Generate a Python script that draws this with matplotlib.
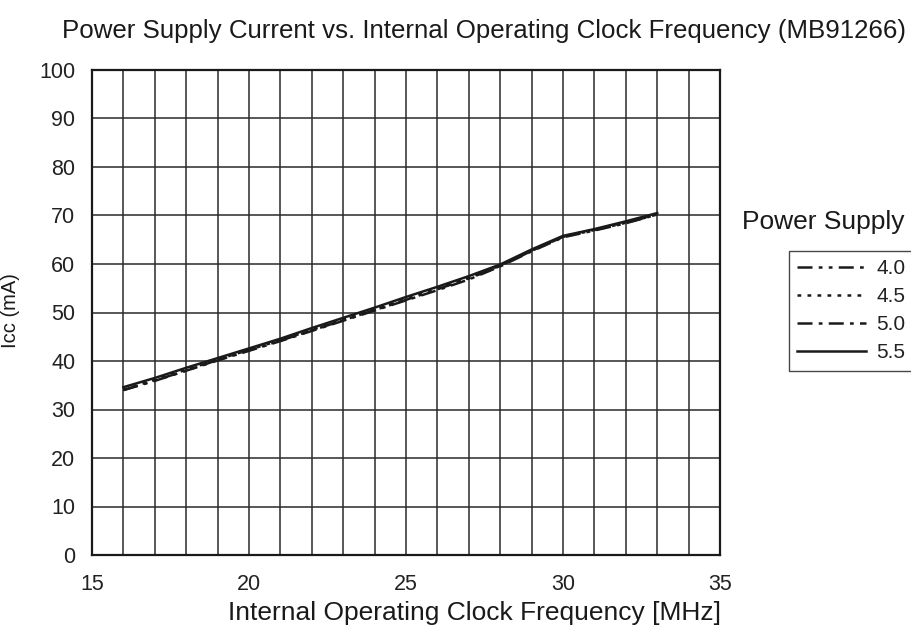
import numpy as np
import matplotlib
matplotlib.use("Agg")
from matplotlib import pyplot as plt

plt.rcParams['font.family'] = ['Liberation Sans', 'DejaVu Sans']

# clock frequency [MHz]
freq = [16, 17, 18, 19, 20, 21, 22, 23, 24, 25, 26, 27, 28, 29, 30, 31, 32, 33]

# Icc (mA) per supply voltage
icc_40 = [34.0, 36.0, 38.0, 40.2, 42.2, 44.2, 46.3, 48.4, 50.5, 52.6, 54.8, 57.0, 59.6, 62.7, 65.6, 67.0, 68.5, 70.2]
icc_45 = [34.1, 36.1, 38.2, 40.3, 42.3, 44.3, 46.4, 48.6, 50.7, 52.8, 54.9, 57.1, 59.7, 62.8, 65.7, 67.1, 68.6, 70.3]
icc_50 = [34.0, 35.9, 38.0, 40.1, 42.1, 44.1, 46.2, 48.3, 50.4, 52.5, 54.6, 56.8, 59.5, 62.6, 65.5, 66.9, 68.4, 70.2]
icc_55 = [34.6, 36.5, 38.6, 40.6, 42.6, 44.6, 46.8, 48.9, 51.0, 53.2, 55.3, 57.5, 59.9, 63.0, 65.8, 67.2, 68.8, 70.5]

supply_labels = ['4.0', '4.5', '5.0', '5.5']
styles = [(0, (6, 2.5, 1.5, 2.5, 1.5, 2.5)), (0, (1.5, 2.5)), (0, (6, 2.5, 1.5, 2.5)), '-']

fig = plt.figure(figsize=(9.11, 6.36), dpi=100)
ax = fig.add_axes([92 / 911, 1 - 555 / 636, (720 - 92) / 911, (555 - 70) / 636])

lines = []
for series, ls, lab in zip([icc_40, icc_45, icc_50, icc_55], styles, supply_labels):
    ln, = ax.plot(freq, series, color='#1a1a1a', lw=1.8, linestyle=ls, label=lab)
    lines.append(ln)

ax.set_xlim(15, 35)
ax.set_ylim(0, 100)
ax.set_xticks(np.arange(15, 36, 5))
ax.set_xticks(np.arange(15, 36, 1), minor=True)
ax.set_yticks(np.arange(0, 101, 10))
ax.grid(True, which='both', color='#2a2a2a', lw=1.1)
ax.tick_params(which='both', length=0, labelsize=15.5, labelcolor='#222222')
ax.tick_params(axis='x', pad=14)
ax.tick_params(axis='y', pad=12)
for s in ax.spines.values():
    s.set_linewidth(1.6)
    s.set_color('#1a1a1a')
ax.set_axisbelow(True)

fig.text(0.531, 0.951, 'Power Supply Current vs. Internal Operating Clock Frequency (MB91266)',
         ha='center', va='center', fontsize=18.6, color='#1a1a1a')
fig.text(0.521, 0.036, 'Internal Operating Clock Frequency [MHz]',
         ha='center', va='center', fontsize=19, color='#1a1a1a')
fig.text(0.011, 0.511, 'Icc (mA)', ha='center', va='center', rotation=90,
         fontsize=14.5, color='#1a1a1a')
fig.text(0.904, 0.651, 'Power Supply', ha='center', va='center', fontsize=19, color='#1a1a1a')

leg = fig.legend(handles=lines, loc='upper left', bbox_to_anchor=(789 / 911, 1 - 251 / 636),
                 fontsize=15, handlelength=3.3, handletextpad=0.5, labelspacing=0.43,
                 fancybox=False, frameon=True, borderpad=0.4, borderaxespad=0)
leg.get_frame().set_edgecolor('#1a1a1a')
leg.get_frame().set_linewidth(1.0)
for t in leg.get_texts():
    t.set_color('#222222')

plt.savefig('out.png', dpi=100)
